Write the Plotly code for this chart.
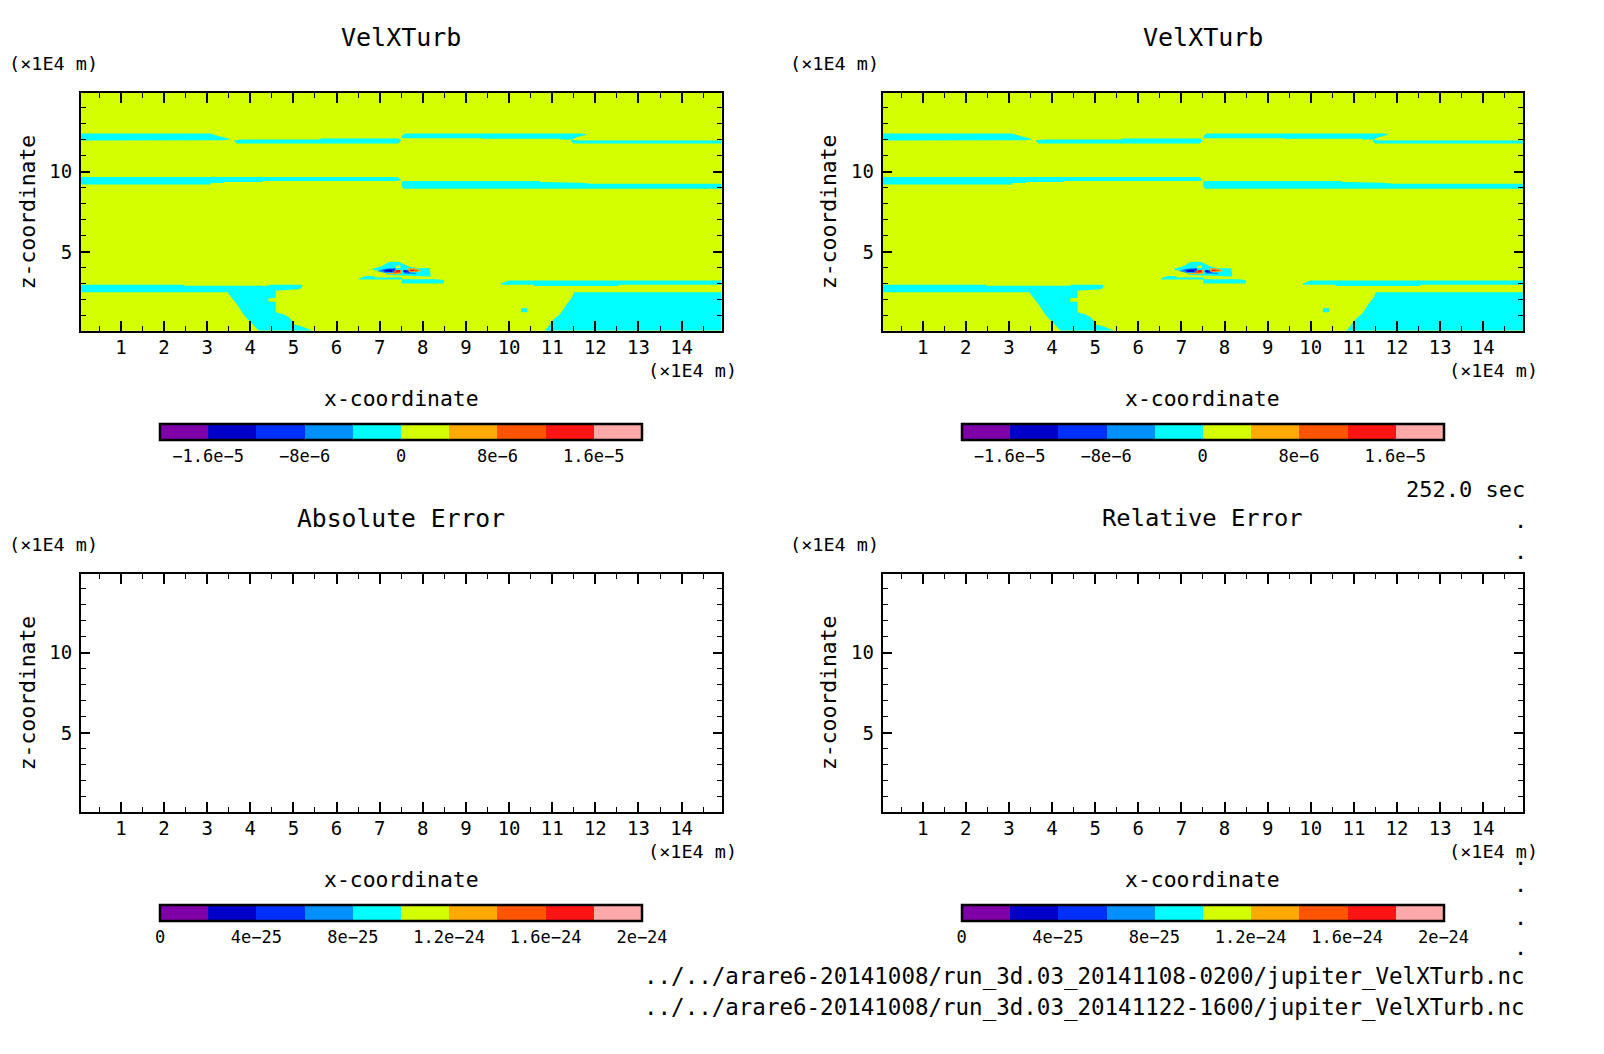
import plotly.graph_objects as go

W, H = 1604, 1054
FONT = "DejaVu Sans Mono"

# ---------- chart data (x, z in units of 1E4 m) ----------
X_RANGE = [0.075, 14.925]
Z_RANGE = [0.075, 14.925]
X_TICKS = list(range(1, 15))
Z_TICKS = [5, 10]

LEVEL_COLORS = ["#7f00a8", "#0000c8", "#0030ff", "#0090ff", "#00ffff",
                "#d4ff00", "#ffaa00", "#ff5500", "#ff1414", "#ffaaaa"]
CYAN, YELLOW, ORANGE, ORANGERED, RED = "#00ffff", "#d4ff00", "#ffaa00", "#ff5500", "#ff1414"
MIDBLUE, BLUE, DARKBLUE = "#0090ff", "#0030ff", "#0000c8"

FIELD_Z = [[2e-6, 2e-6], [2e-6, 2e-6]]

VEL_TICKVALS = [-1.6e-5, -8e-6, 0, 8e-6, 1.6e-5]
VEL_TICKTEXT = ["\u22121.6e\u22125", "\u22128e\u22126", "0", "8e\u22126", "1.6e\u22125"]
ERR_TICKVALS = [0, 4e-25, 8e-25, 1.2e-24, 1.6e-24, 2e-24]
ERR_TICKTEXT = ["0", "4e\u221225", "8e\u221225", "1.2e\u221224", "1.6e\u221224", "2e\u221224"]

U1_X = [0.075, 3.07, 3.20, 3.39, 3.55, 3.39, 0.075]
U1_Z = [12.39, 12.39, 12.29, 12.16, 12.04, 11.98, 11.96]
U2_X = [3.62, 3.82, 5.63, 5.63, 7.44, 7.50, 7.42, 3.68]
U2_Z = [11.96, 12.02, 12.02, 12.08, 12.08, 11.96, 11.77, 11.77]
U3_X = [7.51, 7.575, 11.73, 11.80, 11.57, 11.46, 11.19, 11.19, 9.37, 9.37, 7.51]
U3_Z = [12.22, 12.39, 12.39, 12.31, 12.16, 12.02, 12.02, 12.06, 12.06, 12.10, 12.10]
U4_X = [11.44, 11.57, 14.925, 14.925, 11.50, 11.44]
U4_Z = [12.0, 11.96, 11.96, 11.77, 11.77, 11.89]
M1_X = [0.075, 7.42, 7.50, 7.37, 4.28, 4.28, 3.39, 3.39, 3.08, 3.08, 0.075]
M1_Z = [9.67, 9.67, 9.48, 9.42, 9.42, 9.36, 9.36, 9.30, 9.30, 9.21, 9.21]
M2_X = [7.51, 7.56, 10.72, 10.72, 11.65, 11.92, 14.925, 14.925, 7.56, 7.51]
M2_Z = [9.38, 9.42, 9.42, 9.36, 9.32, 9.25, 9.25, 8.95, 8.95, 9.07]
L1_X = [0.075, 2.47, 2.47, 4.43, 4.43, 5.19, 5.19, 5.11, 4.67, 4.59, 4.59, 4.42, 4.42, 4.59, 4.59,
        4.67, 4.78, 4.90, 5.03, 5.17, 5.34, 5.45, 4.20, 4.05, 3.86, 3.70, 3.53, 3.47, 0.075]
L1_Z = [2.94, 2.94, 2.88, 2.88, 2.94, 2.94, 2.74, 2.67, 2.59, 2.59, 2.12, 2.10, 1.90, 1.88, 1.23,
        1.17, 1.09, 0.92, 0.45, 0.37, 0.16, 0.075, 0.075, 0.51, 1.02, 1.68, 2.26, 2.47, 2.47]
R1_X = [9.82, 9.99, 14.925, 14.925, 12.54, 12.54, 10.58, 10.58, 9.82]
R1_Z = [3.03, 3.21, 3.21, 2.94, 2.94, 2.86, 2.86, 2.94, 2.94]
R2_X = [11.51, 14.925, 14.925, 10.82, 10.88, 11.03, 11.19, 11.34, 11.46]
R2_Z = [2.47, 2.47, 0.075, 0.075, 0.24, 0.78, 1.13, 1.75, 2.16]
R3_X = [10.28, 10.42, 10.42, 10.28]
R3_Z = [1.48, 1.48, 1.23, 1.23]
C1_X = [6.53, 6.67, 6.85, 6.90, 7.51, 7.51, 8.33, 8.49, 8.49, 7.51, 7.51, 6.53]
C1_Z = [3.33, 3.50, 3.50, 3.40, 3.40, 3.29, 3.29, 3.23, 3.02, 3.02, 3.27, 3.27]
C2_X = [6.84, 7.06, 7.21, 7.44, 7.56, 7.71, 7.88, 8.16, 8.18, 7.56, 7.17, 7.10, 6.84]
C2_Z = [3.95, 4.12, 4.37, 4.39, 4.22, 4.06, 3.97, 3.97, 3.46, 3.50, 3.56, 3.77, 3.87]
HOLE_X = [7.37, 7.48, 7.48, 7.37]
HOLE_Z = [4.15, 4.15, 3.99, 3.99]
C3_X = [6.94, 7.10, 7.37, 7.37, 7.10]
C3_Z = [3.81, 3.95, 3.97, 3.70, 3.70]
C4_X = [7.07, 7.21, 7.37, 7.33, 7.14]
C4_Z = [3.85, 3.95, 3.95, 3.77, 3.73]
C5_X = [7.14, 7.29, 7.29, 7.14]
C5_Z = [3.87, 3.87, 3.72, 3.77]
C6_X = [7.16, 7.33, 7.37, 7.50, 7.50, 7.40, 7.16]
C6_Z = [3.68, 3.68, 3.81, 3.89, 3.64, 3.60, 3.60]
C7_X = [7.33, 7.48, 7.48, 7.33]
C7_Z = [3.81, 3.89, 3.70, 3.66]
C8_X = [7.38, 7.47, 7.47, 7.38]
C8_Z = [3.87, 3.87, 3.75, 3.75]
C9_X = [7.56, 7.85, 7.85, 7.68, 7.56]
C9_Z = [3.73, 3.69, 3.60, 3.60, 3.64]
C10_X = [7.54, 7.68, 7.71, 7.60, 7.54]
C10_Z = [3.85, 3.85, 3.70, 3.69, 3.75]
C11_X = [7.56, 7.62, 7.62, 7.56]
C11_Z = [3.85, 3.85, 3.77, 3.77]
C12_X = [7.64, 7.83, 7.95, 7.95, 7.68]
C12_Z = [3.97, 3.97, 3.85, 3.77, 3.75]
C13_X = [7.68, 7.85, 7.91, 7.70]
C13_Z = [3.89, 3.89, 3.81, 3.77]
C14_X = [7.71, 7.79, 7.79, 7.71]
C14_Z = [3.89, 3.89, 3.81, 3.81]

REGIONS = [
    (U1_X, U1_Z, CYAN), (U2_X, U2_Z, CYAN), (U3_X, U3_Z, CYAN), (U4_X, U4_Z, CYAN),
    (M1_X, M1_Z, CYAN), (M2_X, M2_Z, CYAN), (L1_X, L1_Z, CYAN), (R1_X, R1_Z, CYAN),
    (R2_X, R2_Z, CYAN), (R3_X, R3_Z, CYAN), (C1_X, C1_Z, CYAN), (C2_X, C2_Z, CYAN),
    (HOLE_X, HOLE_Z, YELLOW), (C3_X, C3_Z, MIDBLUE), (C4_X, C4_Z, BLUE), (C5_X, C5_Z, DARKBLUE),
    (C6_X, C6_Z, ORANGE), (C7_X, C7_Z, ORANGERED), (C8_X, C8_Z, RED), (C9_X, C9_Z, MIDBLUE),
    (C10_X, C10_Z, BLUE), (C11_X, C11_Z, DARKBLUE), (C12_X, C12_Z, ORANGE),
    (C13_X, C13_Z, ORANGERED), (C14_X, C14_Z, RED),
]

TITLES = ["VelXTurb", "VelXTurb", "Absolute Error", "Relative Error"]
TITLE_SIZES = [25, 25, 24.7, 23.8]
TIME_LABEL = "252.0 sec"
PATH_LINES = ["../../arare6-20141008/run_3d.03_20141108-0200/jupiter_VelXTurb.nc",
              "../../arare6-20141008/run_3d.03_20141122-1600/jupiter_VelXTurb.nc"]

# ---------- layout (pixels) ----------
COLS = [(81, 721.5), (882.7, 1523.2)]
ROWS = [(93, 330.7), (574, 811.7)]
BAR_LEFT = [160, 961.5]
BAR_LEN = 481.5
BAR_TOP = [424, 905]
UNIT_LEFT = [6.5, 788]
RIGHT_TEXT = 1527


def px(x):
    return x / W


def py(y):
    return 1 - y / H


N = 10
scale = []
for i, c in enumerate(LEVEL_COLORS):
    scale += [[i / N, c], [(i + 1) / N, c]]

fig = go.Figure()
anns = []


def note(text, x, y, size, xanchor="center", angle=0):
    anns.append(dict(text=text, x=px(x), y=py(y), xref="paper", yref="paper", showarrow=False,
                     xanchor=xanchor, yanchor="middle", textangle=angle,
                     font=dict(family=FONT, size=size, color="black")))


panels = [(0, 0), (1, 0), (0, 1), (1, 1)]
for n, (c, r) in enumerate(panels, start=1):
    xa, ya = f"x{n}", f"y{n}"
    x0, x1 = COLS[c]
    y0, y1 = ROWS[r]
    top = r == 0
    colorbar = dict(orientation="h", lenmode="pixels", len=BAR_LEN, thickness=16,
                    thicknessmode="pixels", x=px(BAR_LEFT[c]), xanchor="left",
                    y=py(BAR_TOP[r]), yanchor="top", xpad=0, ypad=0,
                    outlinewidth=2.5, outlinecolor="black", borderwidth=0,
                    ticks="", tickvals=VEL_TICKVALS if top else ERR_TICKVALS,
                    ticktext=VEL_TICKTEXT if top else ERR_TICKTEXT,
                    tickfont=dict(family=FONT, size=17, color="black"))
    if top:
        fig.add_trace(go.Heatmap(x=X_RANGE, y=Z_RANGE, z=FIELD_Z, zmin=-2e-5, zmax=2e-5,
                                 colorscale=scale, hoverinfo="skip", xaxis=xa, yaxis=ya,
                                 colorbar=colorbar))
        for rx, rz, col in REGIONS:
            fig.add_trace(go.Scatter(x=rx, y=rz, mode="lines", fill="toself", fillcolor=col,
                                     line=dict(width=0, color=col), hoverinfo="skip",
                                     showlegend=False, xaxis=xa, yaxis=ya))
    else:
        fig.add_trace(go.Scatter(x=[None], y=[None], mode="markers", hoverinfo="skip",
                                 showlegend=False, xaxis=xa, yaxis=ya,
                                 marker=dict(color=[0], colorscale=scale, cmin=0, cmax=2e-24,
                                             showscale=True, colorbar=colorbar)))
    common = dict(showgrid=False, zeroline=False, showline=True, linecolor="black", linewidth=2,
                  mirror="ticks", ticks="inside", tickcolor="black", tickwidth=2,
                  tickfont=dict(family=FONT, size=19, color="black"), tickangle=0)
    fig.update_layout(**{
        f"xaxis{n}": dict(domain=[px(x0), px(x1)], range=X_RANGE, anchor=ya, tickmode="array",
                          tickvals=X_TICKS, ticklen=10, ticklabelstandoff=-2,
                          minor=dict(dtick=0.5, tick0=0, ticks="inside", ticklen=5, tickwidth=1,
                                     tickcolor="black", showgrid=False), **common),
        f"yaxis{n}": dict(domain=[py(y1), py(y0)], range=Z_RANGE, anchor=xa, tickmode="array",
                          tickvals=Z_TICKS, ticklen=9, ticklabelstandoff=3,
                          minor=dict(dtick=1, tick0=0, ticks="inside", ticklen=5, tickwidth=1,
                                     tickcolor="black", showgrid=False), **common),
    })
    mid = (x0 + x1) / 2
    note(TITLES[n - 1], mid, y0 - 56, TITLE_SIZES[n - 1])
    note("(\u00d71E4 m)", UNIT_LEFT[c], y0 - 30, 18.5, xanchor="left")
    note("(\u00d71E4 m)", x1 + 17, y1 + 40, 18.5, xanchor="right")
    note("x-coordinate", mid, y1 + 68, 21.4)
    note("z-coordinate", x0 - 53.5, (y0 + y1) / 2, 21.4, angle=-90)

note(TIME_LABEL, RIGHT_TEXT, 490, 22, xanchor="right")
note(PATH_LINES[0], RIGHT_TEXT, 976, 22.5, xanchor="right")
note(PATH_LINES[1], RIGHT_TEXT, 1007, 22.5, xanchor="right")
for dot_y in [520, 551, 857, 884, 917, 947]:
    note(".", 1529, dot_y, 22, xanchor="right")

fig.update_layout(width=W, height=H, margin=dict(l=0, r=0, t=0, b=0), autosize=False,
                  paper_bgcolor="white", plot_bgcolor="white", annotations=anns, showlegend=False)

fig.write_html("out.html", config={"displayModeBar": False},
               post_script="document.body.style.margin='0';")
